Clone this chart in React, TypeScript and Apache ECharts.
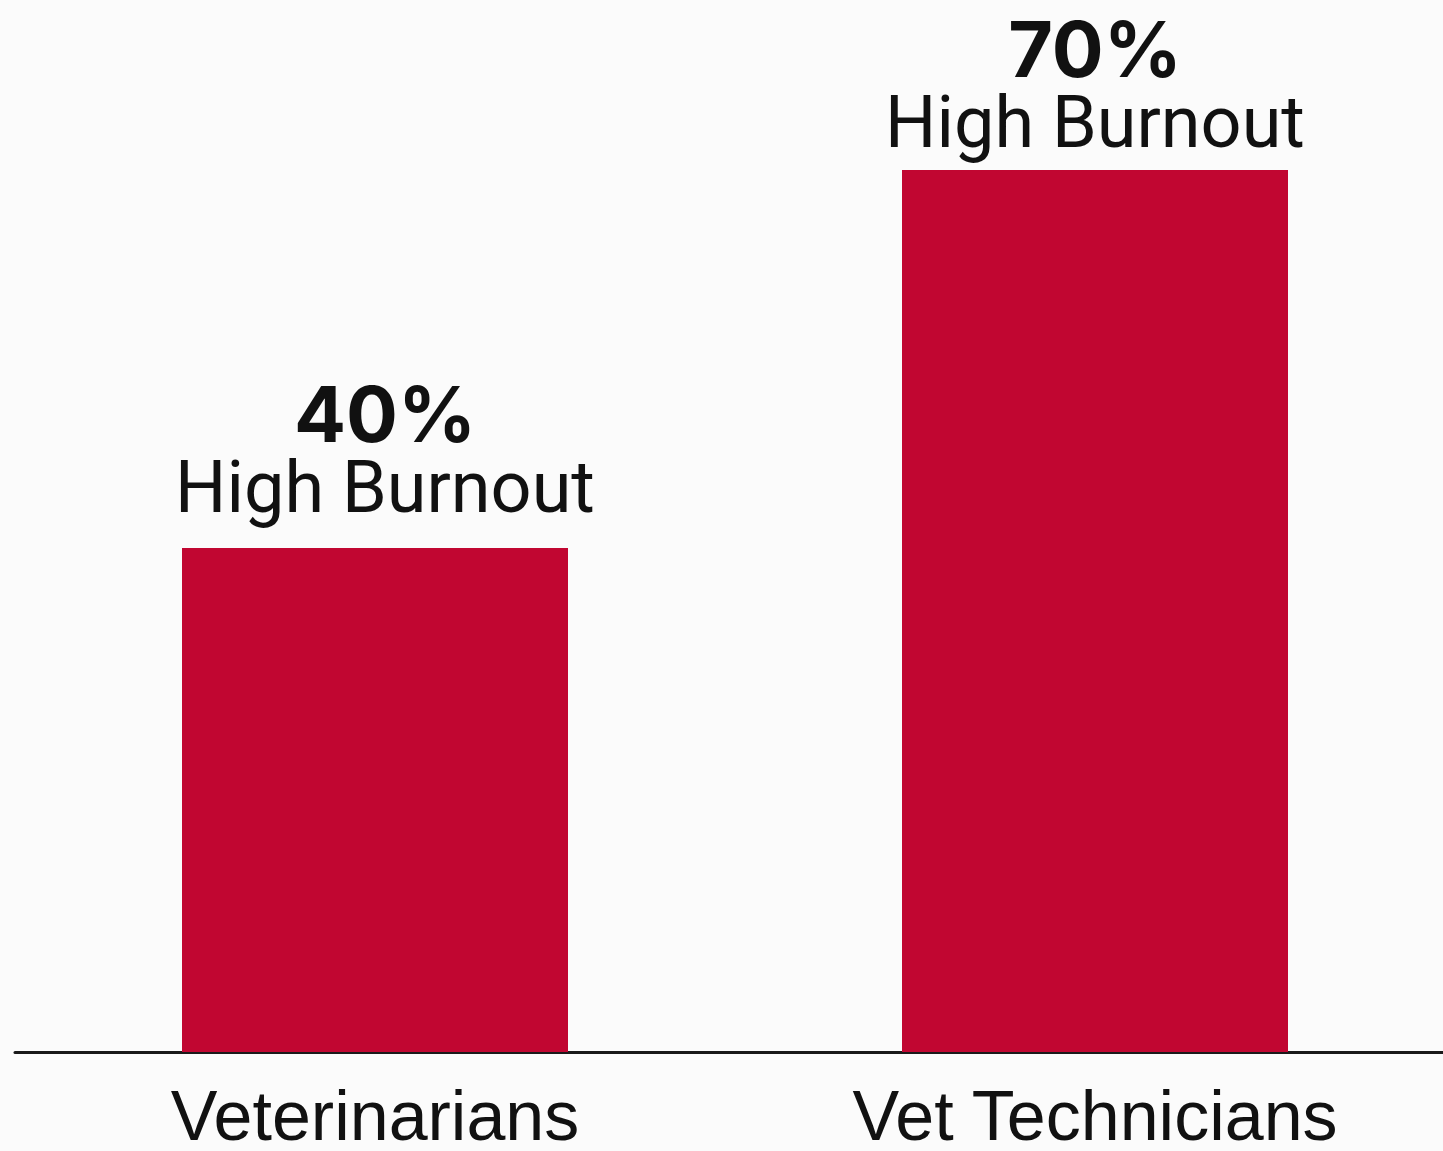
import React, { useEffect, useRef } from "react";
import * as echarts from "echarts";

const categories = ["Veterinarians", "Vet Technicians"];
const burnoutValues = [40, 70];
const valueLabels = ["40%", "70%"];
const subLabel = "High Burnout";

// per-bar label placement (style only)
const labelPlacement = [
  { offset: [10, 0], distance: 25 },
  { offset: [0, 0], distance: 12 },
];

export default function App() {
  const ref = useRef<HTMLDivElement>(null);
  useEffect(() => {
    document.body.style.margin = "0";
    const chart = echarts.init(ref.current!, undefined, { renderer: "svg" });
    chart.setOption({
      animation: false,
      backgroundColor: "#fbfbfb",
      grid: { left: 15, right: 15, top: 0, bottom: 98, containLabel: false },
      xAxis: {
        type: "category",
        data: categories,
        axisLine: { show: true, lineStyle: { color: "#1a1a1a", width: 3 } },
        axisTick: { show: false },
        axisLabel: {
          color: "#111",
          fontFamily: "Liberation Sans",
          fontSize: 70,
          margin: 29,
        },
      },
      yAxis: { type: "value", min: 0, max: 83.5, show: false, splitLine: { show: false } },
      series: [
        {
          type: "bar",
          data: burnoutValues.map((v, i) => ({
            value: v,
            label: { offset: labelPlacement[i].offset, distance: labelPlacement[i].distance },
          })),
          barWidth: 386,
          itemStyle: { color: "#c10631" },
          label: {
            show: true,
            position: "top",
            formatter: (p: any) => `{a|${valueLabels[p.dataIndex]}}\n{b|${subLabel}}`,
            rich: {
              a: { fontFamily: "Inter", fontWeight: "bold", fontSize: 77, lineHeight: 74, color: "#111" },
              b: { fontFamily: "Roboto", fontSize: 72, lineHeight: 72, color: "#111" },
            },
          },
        },
      ],
    });
    return () => chart.dispose();
  }, []);
  return (
    <div style={{ width: 1443, height: 1151, overflow: "hidden", background: "#fbfbfb" }}>
      <div ref={ref} style={{ width: 1470, height: 1151 }} />
    </div>
  );
}
